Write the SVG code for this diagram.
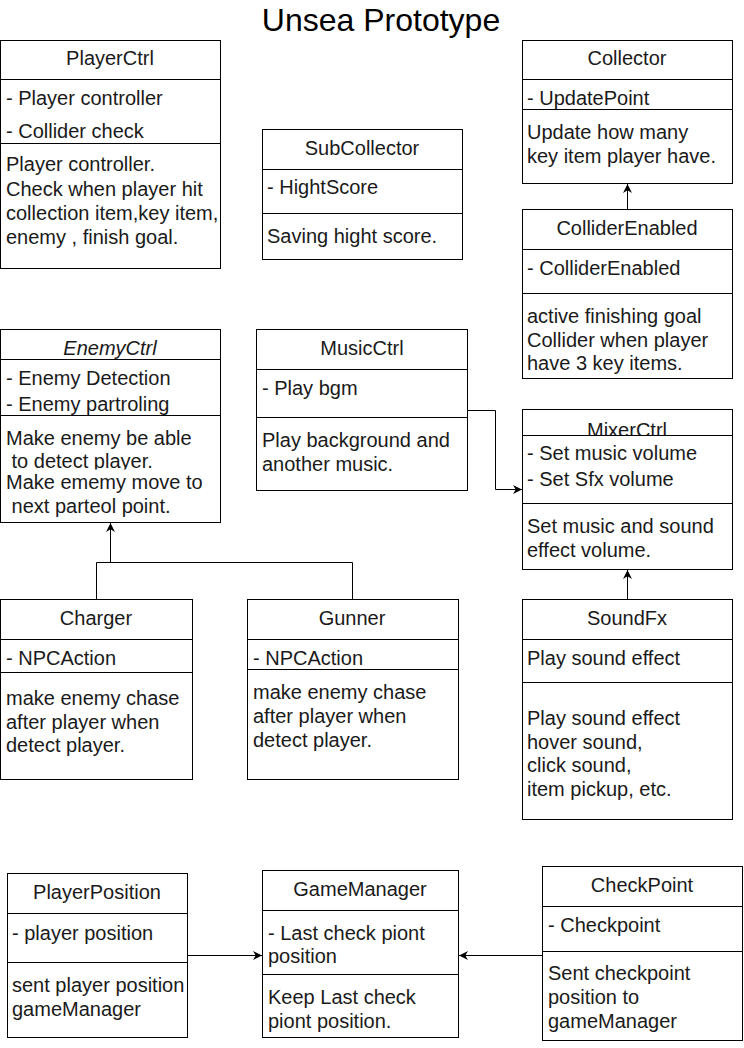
<svg xmlns="http://www.w3.org/2000/svg" width="744" height="1048" viewBox="0 0 744 1048">
<defs>
<style>
.box{fill:#fff;stroke:#000;stroke-width:1}
.ln{stroke:#000;stroke-width:1;fill:none}
.t{font-family:"Liberation Sans",Arial,sans-serif;font-size:20px;fill:#1a1a1a}
.c{text-anchor:middle}
.title{font-family:"Liberation Sans",Arial,sans-serif;font-size:32px;fill:#000;text-anchor:middle}
.conn{stroke:#000;stroke-width:1;fill:none}
</style>
<marker id="arr" viewBox="0 0 10 10" refX="10" refY="5" markerWidth="9" markerHeight="9" markerUnits="userSpaceOnUse" orient="auto">
<path d="M0,0 L10,5 L0,10 L3,5 Z" fill="#000"/>
</marker>
</defs>
<rect width="744" height="1048" fill="#fff"/>
<text class="title" x="381" y="31">Unsea Prototype</text>

<g id="PlayerCtrl">
<rect class="box" x="0.5" y="40.5" width="220" height="228"/>
<line class="ln" x1="0.5" y1="79.5" x2="220.5" y2="79.5"/>
<line class="ln" x1="0.5" y1="143.5" x2="220.5" y2="143.5"/>
<text class="t c" x="110" y="65">PlayerCtrl</text>
<text class="t" x="6" y="105">- Player controller</text>
<text class="t" x="6" y="138">- Collider check</text>
<text class="t" x="6" y="171">Player controller.</text>
<text class="t" x="6" y="196">Check when player hit</text>
<text class="t" x="6" y="220">collection item,key item,</text>
<text class="t" x="6" y="244">enemy , finish goal.</text>
</g>

<g id="SubCollector">
<rect class="box" x="262.5" y="129.5" width="200" height="130"/>
<line class="ln" x1="262.5" y1="169.5" x2="462.5" y2="169.5"/>
<line class="ln" x1="262.5" y1="213.5" x2="462.5" y2="213.5"/>
<text class="t c" x="362" y="155">SubCollector</text>
<text class="t" x="267" y="194">- HightScore</text>
<text class="t" x="267" y="243">Saving hight score.</text>
</g>

<g id="Collector">
<rect class="box" x="522.5" y="40.5" width="210" height="143"/>
<line class="ln" x1="522.5" y1="79.5" x2="732.5" y2="79.5"/>
<line class="ln" x1="522.5" y1="109.5" x2="732.5" y2="109.5"/>
<text class="t c" x="627" y="65">Collector</text>
<text class="t" x="527" y="105">- UpdatePoint</text>
<text class="t" x="527" y="139">Update how many</text>
<text class="t" x="527" y="163">key item player have.</text>
</g>

<g id="ColliderEnabled">
<rect class="box" x="522.5" y="209.5" width="210" height="169"/>
<line class="ln" x1="522.5" y1="249.5" x2="732.5" y2="249.5"/>
<line class="ln" x1="522.5" y1="293.5" x2="732.5" y2="293.5"/>
<text class="t c" x="627" y="235">ColliderEnabled</text>
<text class="t" x="527" y="275">- ColliderEnabled</text>
<text class="t" x="527" y="323">active finishing goal</text>
<text class="t" x="527" y="347">Collider when player</text>
<text class="t" x="527" y="370">have 3 key items.</text>
</g>

<g id="EnemyCtrl">
<rect class="box" x="0.5" y="329.5" width="220" height="193"/>
<line class="ln" x1="0.5" y1="359.5" x2="220.5" y2="359.5"/>
<line class="ln" x1="0.5" y1="415.5" x2="220.5" y2="415.5"/>
<text class="t c" x="110" y="355" font-style="italic">EnemyCtrl</text>
<text class="t" x="6" y="385">- Enemy Detection</text>
<text class="t" x="6" y="411">- Enemy partroling</text>
<text class="t" x="6" y="445">Make enemy be able</text>
<text class="t" x="6" y="468" xml:space="preserve"> to detect player.</text>
<rect x="2" y="469.5" width="217" height="6" fill="#fff"/>
<text class="t" x="6" y="489">Make ememy move to</text>
<text class="t" x="6" y="513" xml:space="preserve"> next parteol point.</text>
</g>

<g id="MusicCtrl">
<rect class="box" x="256.5" y="329.5" width="211" height="161"/>
<line class="ln" x1="256.5" y1="369.5" x2="467.5" y2="369.5"/>
<line class="ln" x1="256.5" y1="417.5" x2="467.5" y2="417.5"/>
<text class="t c" x="362" y="355">MusicCtrl</text>
<text class="t" x="262" y="395">- Play bgm</text>
<text class="t" x="262" y="447">Play background and</text>
<text class="t" x="262" y="471">another music.</text>
</g>

<g id="MixerCtrl">
<rect class="box" x="522.5" y="409.5" width="210" height="160"/>
<text class="t c" x="627" y="437">MixerCtrl</text>
<rect x="523" y="436" width="209" height="5" fill="#fff"/>
<line class="ln" x1="522.5" y1="435.5" x2="732.5" y2="435.5"/>
<line class="ln" x1="522.5" y1="503.5" x2="732.5" y2="503.5"/>
<text class="t" x="527" y="460">- Set music volume</text>
<text class="t" x="527" y="486">- Set Sfx volume</text>
<text class="t" x="527" y="533">Set music and sound</text>
<text class="t" x="527" y="557">effect volume.</text>
</g>

<g id="Charger">
<rect class="box" x="0.5" y="599.5" width="192" height="180"/>
<line class="ln" x1="0.5" y1="639.5" x2="192.5" y2="639.5"/>
<line class="ln" x1="0.5" y1="672.5" x2="192.5" y2="672.5"/>
<text class="t c" x="96" y="625">Charger</text>
<text class="t" x="6" y="665">- NPCAction</text>
<text class="t" x="6" y="705">make enemy chase</text>
<text class="t" x="6" y="729">after player when</text>
<text class="t" x="6" y="752">detect player.</text>
</g>

<g id="Gunner">
<rect class="box" x="247.5" y="599.5" width="211" height="180"/>
<line class="ln" x1="247.5" y1="639.5" x2="458.5" y2="639.5"/>
<line class="ln" x1="247.5" y1="669.5" x2="458.5" y2="669.5"/>
<text class="t c" x="352" y="625">Gunner</text>
<text class="t" x="253" y="665">- NPCAction</text>
<text class="t" x="253" y="699">make enemy chase</text>
<text class="t" x="253" y="723">after player when</text>
<text class="t" x="253" y="747">detect player.</text>
</g>

<g id="SoundFx">
<rect class="box" x="522.5" y="599.5" width="210" height="220"/>
<line class="ln" x1="522.5" y1="639.5" x2="732.5" y2="639.5"/>
<line class="ln" x1="522.5" y1="682.5" x2="732.5" y2="682.5"/>
<text class="t c" x="627" y="625">SoundFx</text>
<text class="t" x="527" y="665">Play sound effect</text>
<text class="t" x="527" y="725">Play sound effect</text>
<text class="t" x="527" y="749">hover sound,</text>
<text class="t" x="527" y="772">click sound,</text>
<text class="t" x="527" y="796">item pickup, etc.</text>
</g>

<g id="PlayerPosition">
<rect class="box" x="7.5" y="873.5" width="180" height="164"/>
<line class="ln" x1="7.5" y1="913.5" x2="187.5" y2="913.5"/>
<line class="ln" x1="7.5" y1="962.5" x2="187.5" y2="962.5"/>
<text class="t c" x="97" y="899">PlayerPosition</text>
<text class="t" x="12" y="940">- player position</text>
<text class="t" x="12" y="992">sent player position</text>
<text class="t" x="12" y="1016">gameManager</text>
</g>

<g id="GameManager">
<rect class="box" x="262.5" y="870.5" width="196" height="167"/>
<line class="ln" x1="262.5" y1="910.5" x2="458.5" y2="910.5"/>
<line class="ln" x1="262.5" y1="974.5" x2="458.5" y2="974.5"/>
<text class="t c" x="360" y="896">GameManager</text>
<text class="t" x="268" y="940">- Last check piont</text>
<text class="t" x="268" y="963">position</text>
<text class="t" x="268" y="1004">Keep Last check</text>
<text class="t" x="268" y="1028">piont position.</text>
</g>

<g id="CheckPoint">
<rect class="box" x="542.5" y="866.5" width="200" height="174"/>
<line class="ln" x1="542.5" y1="906.5" x2="742.5" y2="906.5"/>
<line class="ln" x1="542.5" y1="951.5" x2="742.5" y2="951.5"/>
<text class="t c" x="642" y="892">CheckPoint</text>
<text class="t" x="548" y="932">- Checkpoint</text>
<text class="t" x="548" y="980">Sent checkpoint</text>
<text class="t" x="548" y="1004">position to</text>
<text class="t" x="548" y="1028">gameManager</text>
</g>

<g id="connectors">
<path class="conn" d="M627.5,209 L627.5,184" marker-end="url(#arr)"/>
<path class="conn" d="M96.5,599 L96.5,562.5 L352.5,562.5 L352.5,599"/>
<path class="conn" d="M110.5,562.5 L110.5,523" marker-end="url(#arr)"/>
<path class="conn" d="M467.5,410.5 L495.5,410.5 L495.5,489.5 L522,489.5" marker-end="url(#arr)"/>
<path class="conn" d="M627.5,599 L627.5,570" marker-end="url(#arr)"/>
<path class="conn" d="M188,955.5 L262,955.5" marker-end="url(#arr)"/>
<path class="conn" d="M542,955.5 L459,955.5" marker-end="url(#arr)"/>
</g>
</svg>
